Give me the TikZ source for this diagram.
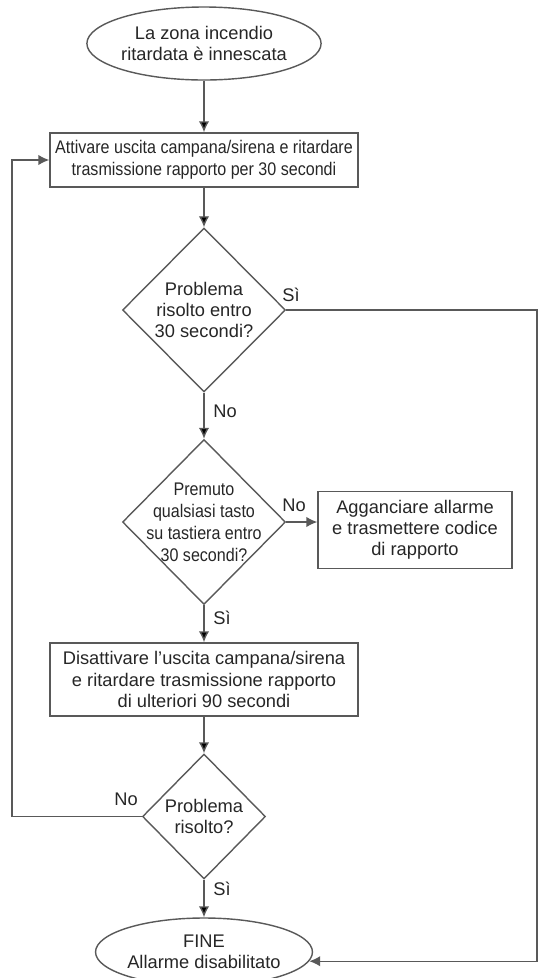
\documentclass[tikz,border=0pt]{standalone}
\usepackage{fontspec}
\setmainfont{Liberation Sans}
\newfontfamily\narrowfont[FakeStretch=0.88]{Liberation Sans}
\usetikzlibrary{arrows.meta,shapes.geometric,positioning,calc}
\tikzset{>={Latex[length=2.2mm,width=2.1mm]}}

\begin{document}
\begin{tikzpicture}

        % Setup the styles for the blocks
        \tikzset{block style/.style={draw=black!65,
                                     line width=0.8pt,
                                     text=black!85,
                                     align=center,
                                     inner sep=0pt,
                                     font=\fontsize{10.4}{12}\selectfont},
                 box style/.style={block style, rectangle},
                 end style/.style={block style, ellipse},
                 test style/.style={block style, diamond, inner sep=-3mm},
                 label style/.style={text=black!85,
                                     inner sep=0pt,
                                     font=\fontsize{10.4}{12}\selectfont}}
        \useasboundingbox (0,0) rectangle (10.78,-19.56);

        % Draw the blocks
        \node[end style, minimum width=3.72cm, minimum height=1.46cm] at (4.08, -0.87)  (start)  {La zona incendio\\ritardata è innescata};
        \node[box style, minimum width=6.16cm, minimum height=1.08cm, font=\narrowfont\fontsize{10.4}{12.5}\selectfont] at (4.08, -3.2) (act) {Attivare uscita campana/sirena e ritardare\\trasmissione rapporto per 30 secondi};
        \node[test style, minimum width=3.26cm, minimum height=3.28cm] at (4.08, -6.2)  (d1)  {Problema\\risolto entro\\30 secondi?};
        \node[test style, minimum width=3.26cm, minimum height=3.3cm, font=\narrowfont\fontsize{10.4}{12.5}\selectfont] at (4.08, -10.44) (d2) {Premuto\\qualsiasi tasto\\su tastiera entro\\30 secondi?};
        \node[box style, minimum width=3.88cm, minimum height=1.54cm] at (8.3, -10.6)  (hook)  {Agganciare allarme\\e trasmettere codice\\di rapporto};
        \node[box style, minimum width=6.16cm, minimum height=1.46cm] at (4.08, -13.59) (deact) {Disattivare l’uscita campana/sirena\\e ritardare trasmissione rapporto\\di ulteriori 90 secondi};
        \node[test style, minimum width=2.46cm, minimum height=2.5cm] at (4.08, -16.33) (d3)  {Problema\\risolto?};
        \node[end style, minimum width=3.64cm, minimum height=1.36cm] at (4.08, -19.04) (fine)  {FINE\\Allarme disabilitato};

        % Draw the answers
        \node[label style] at (5.82, -5.9)   (yes1) {Sì};
        \node[label style] at (4.5, -8.22)   (no1)  {No};
        \node[label style] at (5.88, -10.1)  (no2)  {No};
        \node[label style] at (4.44, -12.36) (yes2) {Sì};
        \node[label style] at (2.52, -15.98) (no3)  {No};
        \node[label style] at (4.44, -17.78) (yes3) {Sì};

        \coordinate (rgt) at (10.74, -6.2);
        \coordinate (lft) at (0.24, -16.33);

        % Connect the blocks with arrows
        \draw[line width=0.8pt, draw=black!65]
            (start) edge[->] (act)
            (act) edge[->] (d1)
            (d1) edge[->] (d2)
            (d2) edge[->] (deact)
            (deact) edge[->] (d3)
            (d3) edge[->] (fine);
        \draw[->, line width=0.8pt, draw=black!65] (d2.east) -- (d2.east -| hook.west);
        \draw[->, line width=0.8pt, draw=black!65] (d1.east) -- (rgt) |- (fine.-5);
        \draw[->, line width=0.8pt, draw=black!65] (d3.west) -- (lft) |- (act.west);
    \end{tikzpicture}
\end{document}
